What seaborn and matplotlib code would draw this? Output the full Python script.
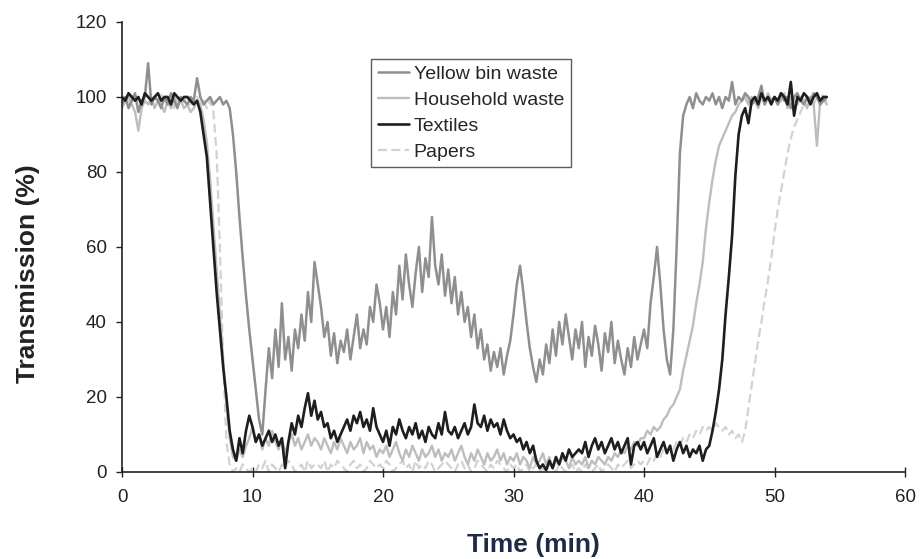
import numpy as np
import pandas as pd
import matplotlib
matplotlib.use("Agg")
import matplotlib.pyplot as plt
import seaborn as sns

# ---------------- data ----------------
time_step_min = 0.25
time_end_min = 54.0

textiles = [
    100, 99, 101, 100, 99, 100, 98, 101, 100, 99, 100, 101, 99, 100, 100, 98, 101, 100, 99, 100,
    100, 99, 98, 99, 96, 90, 84, 72, 60, 48, 38, 28, 20, 11, 6, 3, 9, 5, 11, 15,
    12, 8, 10, 7, 9, 11, 8, 10, 7, 9, 1, 8, 13, 10, 15, 12, 17, 21, 15, 19,
    14, 16, 12, 13, 9, 11, 8, 10, 12, 14, 11, 15, 13, 16, 12, 14, 11, 17, 12, 10,
    8, 11, 7, 12, 10, 14, 11, 9, 12, 10, 13, 9, 11, 8, 12, 10, 9, 13, 10, 16,
    11, 10, 12, 9, 11, 13, 10, 12, 18, 13, 12, 15, 11, 14, 12, 13, 10, 14, 11, 9,
    10, 8, 9, 6, 8, 5, 7, 3, 1, 2, 0.5, 3, 1, 4, 2, 5, 3, 6, 4, 5,
    6, 5, 8, 4, 7, 9, 6, 8, 5, 7, 9, 6, 8, 5, 7, 9, 2, 7, 8, 6,
    8, 5, 7, 9, 4, 6, 8, 5, 7, 3, 6, 8, 5, 7, 4, 6, 5, 7, 3, 6,
    7, 11, 16, 22, 30, 42, 52, 63, 79, 90, 95, 97, 93, 99, 100, 98, 101, 99, 100, 98,
    100, 99, 101, 100, 98, 104, 95, 100, 99, 101, 100, 98, 100, 101, 99, 100, 100,
]

yellow_bin = [
    98, 100, 97, 99, 101, 96, 99, 100, 109, 98, 100, 99, 97, 100, 98, 101, 99, 97, 100, 99,
    98, 100, 99, 105, 100, 98, 99, 100, 98, 99, 100, 98, 99, 97, 90, 80, 68, 57, 47, 38,
    30, 22, 14, 10, 22, 33, 25, 38, 28, 45, 30, 36, 27, 38, 33, 42, 35, 48, 40, 56,
    50, 44, 36, 40, 31, 37, 29, 35, 32, 38, 30, 36, 42, 33, 38, 34, 44, 40, 50, 45,
    38, 44, 36, 48, 42, 55, 46, 58, 50, 44, 53, 60, 48, 57, 52, 68, 55, 50, 58, 47,
    54, 45, 52, 42, 48, 40, 44, 36, 42, 33, 38, 30, 34, 27, 32, 28, 33, 26, 31, 35,
    42, 50, 55, 48, 40, 33, 28, 24, 30, 26, 34, 29, 38, 31, 40, 34, 42, 36, 30, 38,
    33, 40, 28, 36, 31, 39, 34, 27, 37, 32, 40, 29, 35, 30, 26, 33, 28, 36, 30, 34,
    38, 33, 45, 52, 60, 50, 38, 30, 26, 38, 60, 85, 95, 98, 100, 97, 101, 99, 98, 100,
    99, 101, 98, 100, 97, 100, 99, 104, 98, 100, 99, 101, 100, 98, 99, 100, 103, 98, 100, 99,
    100, 98, 101, 99, 100, 97, 100, 101, 99, 98, 100, 99, 101, 100, 98, 99, 100,
]

household = [
    97, 99, 100, 98, 96, 91, 97, 99, 98, 100, 97, 99, 98, 96, 99, 97, 100, 98, 99, 97,
    98, 96, 97, 99, 98, 94, 88, 78, 66, 54, 42, 30, 18, 9, 4, 3, 6, 4, 7, 9,
    12, 8, 10, 6, 9, 7, 11, 8, 6, 9, 5, 8, 10, 7, 9, 6, 8, 10, 7, 9,
    8, 6, 9, 7, 5, 8, 6, 9, 7, 5, 8, 6, 7, 9, 5, 8, 6, 7, 4, 6,
    5, 7, 4, 6, 8, 5, 3, 6, 4, 7, 5, 3, 6, 4, 5, 7, 4, 6, 3, 5,
    4, 6, 3, 5, 7, 4, 2, 5, 3, 6, 4, 2, 5, 3, 4, 6, 3, 5, 2, 4,
    3, 5, 2, 4, 3, 1, 4, 2, 3, 5, 2, 4, 1, 3, 2, 4, 3, 1, 4, 2,
    3, 2, 4, 1, 3, 2, 4, 3, 2, 4, 3, 5, 4, 6, 5, 7, 6, 8, 7, 9,
    9, 11, 10, 12, 11, 12, 14, 15, 17, 18, 20, 22, 27, 31, 35, 39, 45, 50, 56, 65,
    72, 78, 83, 87, 89, 91, 93, 95, 96, 98, 99, 100, 98, 100, 99, 97, 100, 98, 101, 99,
    100, 98, 99, 101, 97, 100, 99, 98, 100, 99, 97, 100, 98, 87, 99, 100, 98,
]

papers = [
    99, 100, 98, 101, 99, 100, 97, 100, 99, 98, 100, 99, 101, 98, 100, 99, 97, 100, 98, 99,
    100, 98, 99, 100, 98, 99, 97, 99, 96, 85, 60, 30, 8, 2, 0, 1, 0, 2, 1, 0,
    1, 0, 2, 1, 3, 0, 2, 1, 0, 2, 1, 3, 2, 0, 1, 2, 0, 3, 1, 2,
    2, 1, 3, 0, 2, 1, 3, 2, 1, 0, 2, 3, 1, 2, 0, 1, 3, 2, 1, 2,
    1, 3, 2, 0, 1, 2, 3, 1, 2, 0, 3, 1, 2, 1, 3, 2, 0, 1, 2, 3,
    2, 1, 0, 2, 3, 1, 2, 0, 1, 3, 2, 1, 0, 2, 1, 3, 2, 1, 0, 2,
    1, 2, 0, 1, 2, 0, 1, 2, 0, 1, 0, 2, 1, 0, 2, 1, 0, 1, 2, 0,
    1, 0, 2, 1, 0, 1, 2, 0, 1, 2, 1, 0, 2, 1, 2, 3, 1, 2, 3, 2,
    3, 2, 4, 3, 5, 4, 6, 5, 7, 6, 8, 7, 9, 8, 10, 9, 11, 10, 12, 11,
    12, 11, 13, 12, 11, 12, 10, 11, 9, 10, 8, 11, 17, 23, 29, 35, 40, 46, 51, 57,
    64, 70, 75, 80, 85, 89, 92, 94, 96, 98, 99, 100, 98, 100, 99, 101, 99,
]

series_names = ["Yellow bin waste", "Household waste", "Textiles", "Papers"]
x_ticks = [0, 10, 20, 30, 40, 50, 60]
y_ticks = [0, 20, 40, 60, 80, 100, 120]

# ---------------- build table ----------------
time_min = np.arange(0, time_end_min + time_step_min / 2, time_step_min)
values = {
    "Yellow bin waste": yellow_bin,
    "Household waste": household,
    "Textiles": textiles,
    "Papers": papers,
}
frames = []
for name in series_names:
    v = values[name]
    frames.append(pd.DataFrame({"Time": time_min[: len(v)], "Transmission": v, "Series": name}))
df = pd.concat(frames, ignore_index=True)

# ---------------- style ----------------
sns.set_style("ticks")
plt.rcParams["font.family"] = ["Liberation Sans", "DejaVu Sans"]

styles = {
    "Yellow bin waste": dict(color="#8f8f8f", lw=1.8, ls="-"),
    "Household waste": dict(color="#bdbdbd", lw=1.7, ls="-"),
    "Textiles": dict(color="#1e1e1e", lw=1.9, ls="-"),
    "Papers": dict(color="#d2d2d2", lw=1.6, ls=(0, (4, 2))),
}

fig = plt.figure(figsize=(9.23, 5.59), dpi=100)
ax = fig.add_axes([0.1322, 0.1557, 0.8483, 0.805])

draw_order = ["Papers", "Household waste", "Yellow bin waste", "Textiles"]
handles = {}
for name in draw_order:
    st = styles[name]
    sub = df[df["Series"] == name]
    sns.lineplot(data=sub, x="Time", y="Transmission", ax=ax, color=st["color"],
                 linewidth=st["lw"], linestyle=st["ls"], label=name, legend=False)
    handles[name] = ax.get_lines()[-1]

ax.set_xlim(0, 60)
ax.set_ylim(0, 120)
ax.set_xticks(x_ticks)
ax.set_yticks(y_ticks)
ax.tick_params(axis="x", direction="inout", length=7, width=1, labelsize=13.5, pad=9,
               colors="#222222")
ax.tick_params(axis="y", direction="out", length=4, width=1, labelsize=13.5, pad=7,
               colors="#222222")
for s in ["top", "right"]:
    ax.spines[s].set_visible(False)
for s in ["left", "bottom"]:
    ax.spines[s].set_color("#222222")
    ax.spines[s].set_linewidth(1.2)

ax.set_xlabel("Time (min)", fontsize=19, fontweight="bold", color="#1f2a44")
ax.set_ylabel("Transmission (%)", fontsize=19, fontweight="bold", color="#222222")
ax.xaxis.set_label_coords(0.525, -0.135)
ax.yaxis.set_label_coords(-0.105, 0.44)

leg = ax.legend([handles[n] for n in series_names], series_names,
                loc="upper left", bbox_to_anchor=(0.318, 0.918), frameon=True,
                fancybox=False, edgecolor="#333333", fontsize=14,
                handlelength=1.6, handletextpad=0.25, borderpad=0.35, labelspacing=0.42,
                borderaxespad=0)
leg.get_frame().set_linewidth(1.0)

fig.savefig("out.png", dpi=100)
